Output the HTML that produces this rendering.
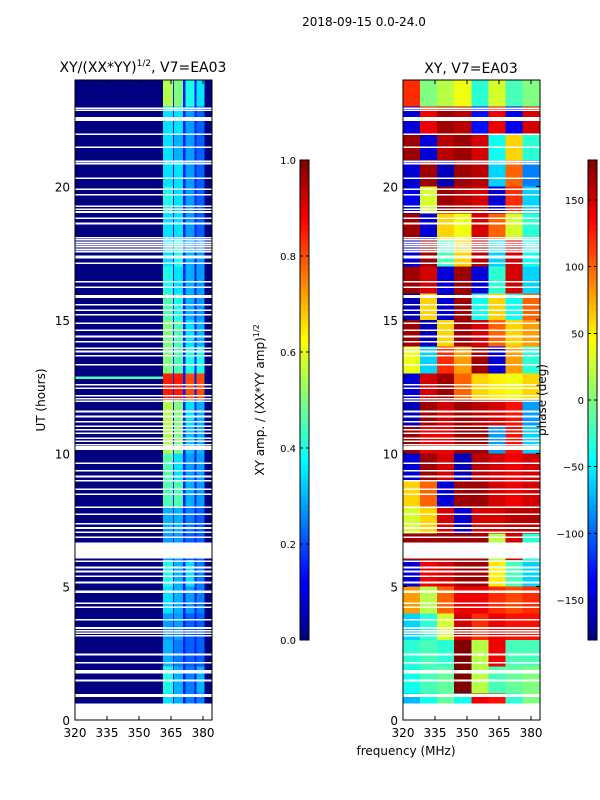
<!DOCTYPE html>
<html><head><meta charset="utf-8">
<style>
body{margin:0;background:#fff;}
svg{display:block;font-family:"DejaVu Sans","Liberation Sans",sans-serif;}
</style></head>
<body>
<svg id="fig" width="600" height="800" viewBox="0 0 600 800" xmlns="http://www.w3.org/2000/svg">
<rect x="0" y="0" width="600" height="800" fill="#fff"/>
<text x="364" y="26" font-size="12" text-anchor="middle">2018-09-15 0.0-24.0</text>
<text x="143" y="72" font-size="14" text-anchor="middle">XY/(XX*YY)<tspan font-size="9" dy="-6">1/2</tspan><tspan dy="6">, V7=EA03</tspan></text>
<text x="471" y="73" font-size="14" text-anchor="middle">XY, V7=EA03</text>
<text x="45" y="400" font-size="12" text-anchor="middle" transform="rotate(-90 45 400)">UT (hours)</text>
<text x="406" y="755" font-size="12" text-anchor="middle">frequency (MHz)</text>
<text x="264" y="400" font-size="12" text-anchor="middle" transform="rotate(-90 264 400)">XY amp. / (XX*YY amp)<tspan font-size="8" dy="-5">1/2</tspan></text>
<g id="ampPanel"></g>
<g id="phasePanel"></g>
<g id="cb1"></g>
<g id="cb2"></g>
<g id="axes"></g>
<text x="546" y="400" font-size="12" text-anchor="middle" transform="rotate(-90 546 400)">phase (deg)</text>
</svg>
<script>
// ---- data ----
const hours = [0,1,2,3,4,5,6,7,8,9,10,11,12,13,14,15,16,17,18,19,20,21,22,23];
const stripeFreqs = [[361.3,366.0],[366.5,370.7],[371.7,375.9],[377.0,380.7]];
const ampBackground = 0.0;
const ampGapValue = 0.15;
const ampStripes = [
 [0.35,0.3,0.25,0.25],[0.4,0.3,0.25,0.3],[0.3,0.25,0.22,0.22],[0.28,0.28,0.22,0.22],
 [0.35,0.3,0.28,0.25],[0.4,0.3,0.35,0.25],[0.28,0.28,0.22,0.22],[0.3,0.3,0.25,0.22],
 [0.45,0.45,0.3,0.28],[0.45,0.35,0.28,0.28],[0.55,0.5,0.32,0.3],[0.55,0.5,0.35,0.3],
 [0.85,0.85,0.8,0.8],[0.5,0.45,0.4,0.4],[0.5,0.45,0.35,0.3],[0.45,0.4,0.3,0.28],
 [0.4,0.35,0.3,0.28],[0.35,0.4,0.3,0.28],[0.35,0.35,0.28,0.22],[0.4,0.35,0.28,0.22],
 [0.35,0.35,0.28,0.22],[0.35,0.3,0.28,0.22],[0.35,0.35,0.28,0.22],[0.55,0.5,0.4,0.35]];
const ampLineUT = 12.83;
const ampLineValue = 0.45;
const phaseFreqEdges = [320,328,336,344,352,360,368,376,384.2];
const phase = [
 [-70,-40,-10,-40,140,130,-30,0],
 [-40,-20,-10,180,20,-20,-10,0],
 [-30,-20,-30,180,20,140,-20,-20],
 [-60,-30,30,150,120,140,130,130],
 [80,20,100,140,140,120,110,120],
 [-150,140,150,170,170,50,-20,-60],
 [170,170,170,170,170,20,150,-30],
 [30,60,150,-150,150,150,160,160],
 [60,100,-150,170,170,150,140,150],
 [-150,170,150,-160,160,150,140,150],
 [170,140,140,170,170,-80,130,-60],
 [-160,170,150,170,160,150,130,-80],
 [-150,150,170,100,60,50,40,60],
 [40,-60,120,80,170,-150,80,-30],
 [170,-160,60,170,150,100,60,80],
 [-160,60,-150,170,-40,60,-40,100],
 [170,150,-150,170,-150,-30,150,-60],
 [-150,170,-20,60,160,-60,150,-40],
 [170,-150,60,40,150,100,30,-30],
 [-140,30,170,160,150,-150,120,-60],
 [-150,170,-160,170,160,-60,100,-90],
 [170,-150,160,170,150,-40,60,-30],
 [-150,140,170,160,-130,140,-140,150],
 [120,0,20,40,-30,30,-20,0]];
// gaps: [UT start, thickness hours]
const gaps = [[0,0.62],[0.86,0.1],[0.92,0.06],[1.44,0.07],[1.74,0.14],[2.11,0.07],[2.42,0.07],[3.13,0.06],[3.23,0.06],[3.32,0.06],[3.42,0.06],[3.73,0.06],[4.2,0.06],[4.35,0.06],[4.76,0.1],[5.12,0.08],[5.36,0.06],[5.54,0.06],[5.68,0.08],[5.92,0.07],[6.05,0.61],[6.83,0.06],[7.01,0.06],[7.17,0.06],[7.33,0.06],[7.69,0.06],[7.95,0.06],[8.44,0.06],[8.63,0.06],[8.94,0.06],[9.1,0.06],[9.32,0.06],[9.6,0.06],[10.12,0.16],[10.29,0.06],[10.42,0.06],[10.54,0.06],[10.73,0.06],[10.85,0.06],[10.98,0.06],[11.16,0.06],[11.35,0.06],[11.54,0.06],[11.92,0.06],[12.01,0.06],[12.13,0.06],[12.41,0.06],[12.54,0.06],[13.29,0.06],[13.63,0.06],[13.79,0.06],[13.91,0.06],[14.16,0.06],[14.35,0.06],[14.58,0.06],[14.85,0.06],[15.16,0.06],[15.33,0.06],[15.54,0.06],[15.83,0.1],[16.2,0.06],[16.41,0.06],[17.1,0.06],[17.3,0.12],[17.54,0.06],[17.62,0.06],[17.71,0.06],[17.8,0.06],[17.88,0.06],[17.98,0.06],[18.06,0.06],[18.59,0.06],[18.79,0.06],[19.02,0.06],[19.13,0.06],[19.23,0.06],[19.67,0.06],[19.88,0.06],[20.29,0.06],[20.84,0.06],[20.92,0.06],[21.45,0.06],[21.94,0.06],[22.47,0.15],[22.84,0.06],[22.91,0.06]];
const yTicks = [0,5,10,15,20];
const xTicks = [320,335,350,365,380];
const cb1Ticks = [0.0,0.2,0.4,0.6,0.8,1.0];
const cb2Ticks = [-150,-100,-50,0,50,100,150];

// ---- scales ----
const Y0=720, Y1=80, UTMAX=24;
function yScale(ut){return Y0-(ut/UTMAX)*(Y0-Y1);}
const FMIN=320, FMAX=384.2;
function xScaleL(f){return 75+(f-FMIN)/(FMAX-FMIN)*137;}
function xScaleR(f){return 403+(f-FMIN)/(FMAX-FMIN)*137;}
function jet(v){v=Math.max(0,Math.min(1,v));
 const c=x=>Math.round(255*Math.max(0,Math.min(1,x)));
 const r=1.5-Math.abs(4*v-3), g=1.5-Math.abs(4*v-2), b=1.5-Math.abs(4*v-1);
 return `rgb(${c(r)},${c(g)},${c(b)})`;}
const NS="http://www.w3.org/2000/svg";
function R(parent,x,y,w,h,fill){const r=document.createElementNS(NS,'rect');
 r.setAttribute('x',x);r.setAttribute('y',y);r.setAttribute('width',w);r.setAttribute('height',h);
 r.setAttribute('fill',fill);r.setAttribute('shape-rendering','crispEdges');parent.appendChild(r);return r;}
function T(parent,x,y,s,anchor,size){const t=document.createElementNS(NS,'text');
 t.setAttribute('x',x);t.setAttribute('y',y);t.setAttribute('text-anchor',anchor);t.setAttribute('font-size',size||12);
 t.textContent=s;parent.appendChild(t);return t;}

// amplitude panel
const amp=document.getElementById('ampPanel');
hours.forEach((h,i)=>{
 const y=yScale(h+1), hh=yScale(h)-yScale(h+1);
 const bg=R(amp,xScaleL(FMIN),y,xScaleL(FMAX)-xScaleL(FMIN),hh,jet(ampBackground));
 
 
 const sb=R(amp,xScaleL(stripeFreqs[0][0]),y,xScaleL(stripeFreqs[3][1])-xScaleL(stripeFreqs[0][0]),hh,jet(ampGapValue));
 
 
 stripeFreqs.forEach((sf,j)=>{
  const r=R(amp,xScaleL(sf[0]),y,xScaleL(sf[1])-xScaleL(sf[0]),hh,jet(ampStripes[i][j]));
  
  
 });
});
{const ln=R(amp,xScaleL(FMIN),yScale(ampLineUT+0.05),xScaleL(stripeFreqs[0][0])-xScaleL(FMIN),yScale(ampLineUT-0.05)-yScale(ampLineUT+0.05),jet(ampLineValue));
 
 }

// phase panel
const ph=document.getElementById('phasePanel');
hours.forEach((h,i)=>{
 const y=yScale(h+1), hh=yScale(h)-yScale(h+1);
 for(let j=0;j<phaseFreqEdges.length-1;j++){
  const r=R(ph,xScaleR(phaseFreqEdges[j]),y,xScaleR(phaseFreqEdges[j+1])-xScaleR(phaseFreqEdges[j]),hh,jet((phase[i][j]+180)/360));
  
  
 }
});

// gaps
gaps.forEach(g=>{
 const y=yScale(g[0]+g[1]), hh=yScale(g[0])-yScale(g[0]+g[1]);
 const a=R(amp,75,y,137,hh,'#fff');
 
 
 const b=R(ph,403,y,137,hh,'#fff');
 
 
});

// colorbars
function colorbar(gid,x,vmin,vmax,ticks,fmt){
 const g=document.getElementById(gid);
 const N=96, top=160, bot=640;
 for(let k=0;k<N;k++){
  const y=bot-(k+1)*(bot-top)/N;
  R(g,x,y,9,(bot-top)/N+0.5,jet((k+0.5)/N));
 }
 const fr=R(g,x,top,9,bot-top,'none');fr.setAttribute('stroke','#000');fr.setAttribute('stroke-width','1');
 ticks.forEach(v=>{
  const y=bot-(v-vmin)/(vmax-vmin)*(bot-top);
  const t=T(g,x-4,y+4,fmt(v),'end',10);
  
  
  R(g,x,y-0.5,3,1,'#000');R(g,x+6,y-0.5,3,1,'#000');
 });
}
colorbar('cb1',300,0,1,cb1Ticks,v=>v.toFixed(1));
colorbar('cb2',588,-180,180,cb2Ticks,v=>v<0?'\u2212'+(-v):String(v));

// axes frames & ticks
const ax=document.getElementById('axes');
[[75,xScaleL],[403,xScaleR]].forEach(([x0,xs])=>{
 const fr=R(ax,x0,80,137,640,'none');fr.setAttribute('stroke','#000');fr.setAttribute('stroke-width','1');
 
 
 yTicks.forEach(v=>{
  const y=yScale(v);
  R(ax,x0,y-0.5,4,1,'#000');R(ax,x0+133,y-0.5,4,1,'#000');
  const t=T(ax,x0-5,y+5,String(v),'end',12);
  
  
 });
 xTicks.forEach(v=>{
  const x=xs(v);
  R(ax,x-0.5,716,1,4,'#000');R(ax,x-0.5,80,1,4,'#000');
  const t=T(ax,x,737,String(v),'middle',12);
  
  
 });
});
</script>
</body></html>
